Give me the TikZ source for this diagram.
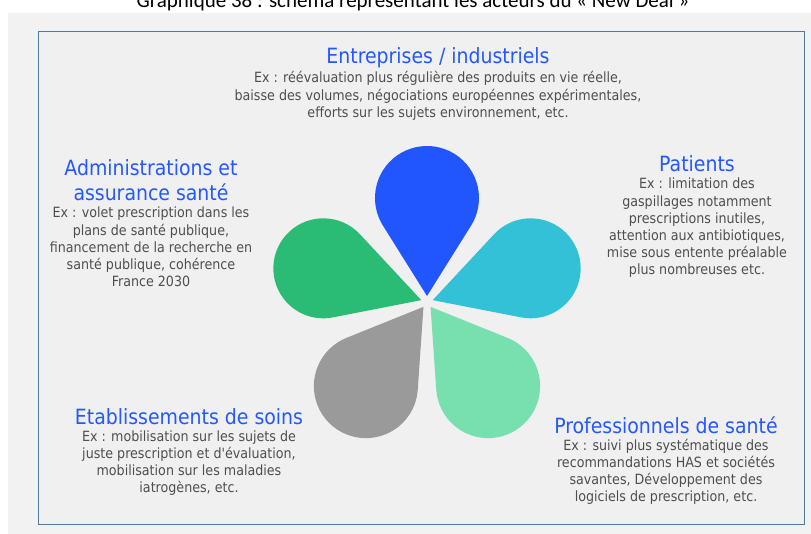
\documentclass[tikz,border=0pt]{standalone}
\usepackage{fontspec}
\usepackage{tikz}
\usetikzlibrary{calc, positioning}
\newfontfamily\actorfont{DejaVu Sans Condensed}
\newfontfamily\capfont{Carlito}
\definecolor{panelgray}{RGB}{242,242,242}
\definecolor{boxfill}{RGB}{240,240,240}
\definecolor{boxline}{RGB}{84,120,150}
\definecolor{titleblue}{RGB}{36,88,255}
\definecolor{bodygray}{RGB}{78,78,78}
\definecolor{petalblue}{RGB}{33,86,255}
\definecolor{petalcyan}{RGB}{50,193,214}
\definecolor{petalgreen}{RGB}{42,187,116}
\definecolor{petalgray}{RGB}{154,154,154}
\definecolor{petalmint}{RGB}{120,224,175}
\tikzset{
  captiontext/.style={font=\capfont\fontsize{21}{24}\selectfont, text=black, inner sep=0pt, anchor=base},
  actortitle/.style={font=\actorfont\fontsize{21}{24.5}\selectfont, text=titleblue,
    align=center, inner sep=0pt},
  actortext/.style={font=\actorfont\fontsize{14.1}{17.2}\selectfont, text=bodygray,
    align=center, inner sep=0pt},
}
\begin{document}
\begin{tikzpicture}[x=1pt, y=-1pt]
  \useasboundingbox (0,0) rectangle (811,534);
  \clip (0,0) rectangle (811,534);
  \fill[white] (0,0) rectangle (811,534);
  \fill[panelgray] (8,13) rectangle (811,534);
  \draw[boxline, fill=boxfill, line width=1.3pt] (38.5,31.5) rectangle (804.5,524.5);
  \node[captiontext] (cap) at (413,8) {Graphique 38 : schéma représentant les acteurs du « New Deal »};
  % the five petals
  \coordinate (hub) at (427,302);
  \foreach \ang/\dist/\rad/\col in {90/104/52/petalblue, 18/109/50/petalcyan,
      -54/104/52/petalmint, -126/104/52/petalgray, 162/109/50/petalgreen} {
    \pgfmathsetmacro{\half}{90+asin(\rad/(\dist-6))}
    \fill[\col] ($(hub)+(\ang:6pt)$) -- ($(hub)+(\ang:\dist pt)+(\ang-\half:\rad pt)$)
      arc[start angle=\ang-\half, end angle=\ang+\half, radius=\rad pt] -- cycle;
  }
  % actors
  \node[actortitle] (entTitle) at (438,58) {Entreprises / industriels};
  \node[actortext] (entText) at (438,96) {Ex : réévaluation plus régulière des produits en vie réelle,\\
    baisse des volumes, négociations européennes expérimentales,\\
    efforts sur les sujets environnement, etc.};
  \node[actortitle] (patTitle) at (697,164) {Patients};
  \node[actortext] (patText) at (697,228) {Ex : limitation des\\ gaspillages notamment\\
    prescriptions inutiles,\\ attention aux antibiotiques,\\ mise sous entente préalable\\
    plus nombreuses etc.};
  \node[actortitle] (admTitle) at (151,180) {Administrations et\\ assurance santé};
  \node[actortext] (admText) at (151,247) {Ex : volet prescription dans les\\ plans de santé publique,\\
    financement de la recherche en\\ santé publique, cohérence\\ France 2030};
  \node[actortitle] (etaTitle) at (189,417) {Etablissements de soins};
  \node[actortext] (etaText) at (189,463) {Ex : mobilisation sur les sujets de\\
    juste prescription et d'évaluation,\\ mobilisation sur les maladies\\ iatrogènes, etc.};
  \node[actortitle] (proTitle) at (666,425) {Professionnels de santé};
  \node[actortext] (proText) at (666,472) {Ex : suivi plus systématique des\\
    recommandations HAS et sociétés\\ savantes, Développement des\\ logiciels de prescription, etc.};
\end{tikzpicture}
\end{document}
